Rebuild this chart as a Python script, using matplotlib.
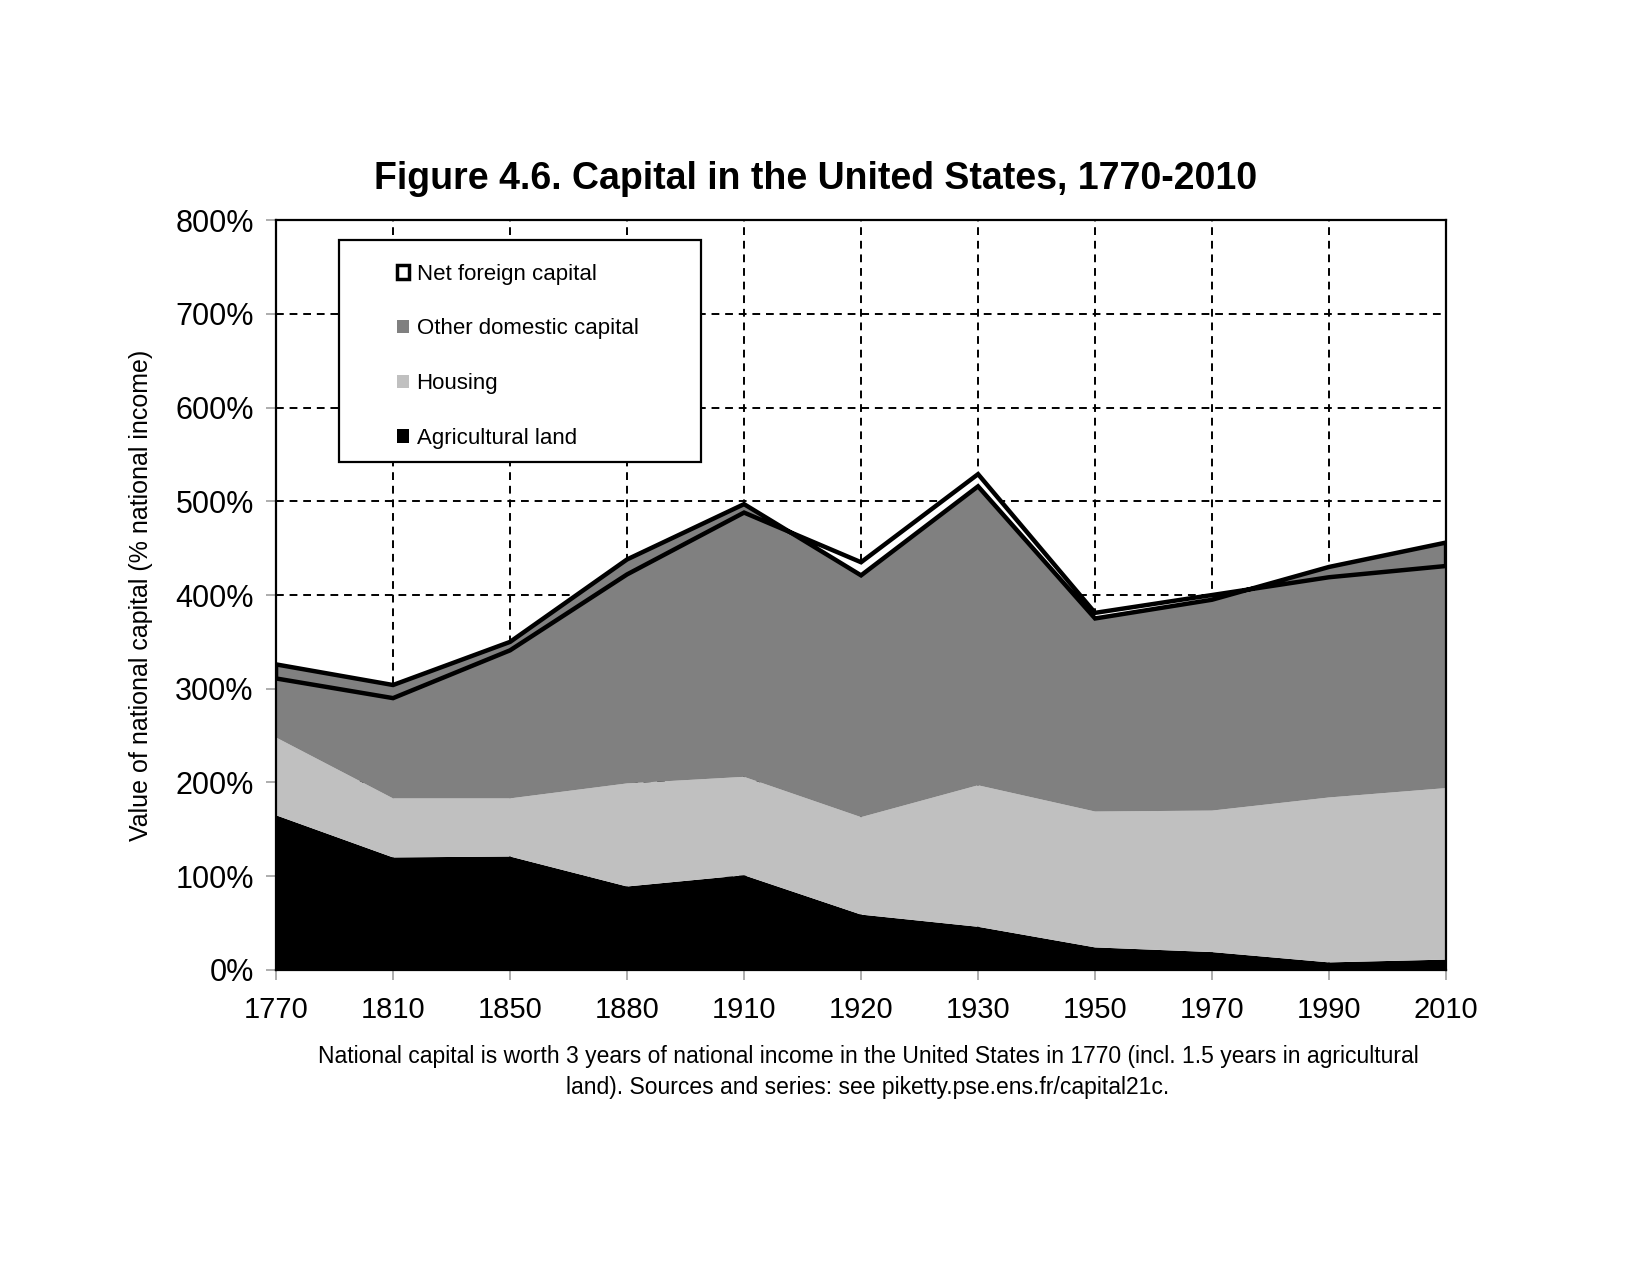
import numpy as np
import matplotlib
matplotlib.use('Agg')
import matplotlib.pyplot as plt
from matplotlib.patches import Patch, Rectangle
from matplotlib.ticker import FuncFormatter

plt.rcParams['font.family'] = ['Liberation Sans', 'DejaVu Sans']

# values, % of national income
years = ['1770', '1810', '1850', '1880', '1910', '1920', '1930', '1950', '1970', '1990', '2010']
agri_land = [165, 120, 121, 89, 101, 59, 46, 24, 19, 8, 11]
housing = [83, 63, 62, 110, 105, 104, 151, 145, 151, 176, 183]
other_domestic = [78, 121, 167, 239, 291, 258, 319, 206, 225, 246, 262]
net_foreign = [-15, -14, -9, -16, -9, 14, 13, 6, 5, -11, -25]

labels = ['Net foreign capital', 'Other domestic capital', 'Housing', 'Agricultural land']
caption = ('National capital is worth 3 years of national income in the United States in 1770 (incl. 1.5 years in agricultural\n'
           'land). Sources and series: see piketty.pse.ens.fr/capital21c.')

#-----------------------------------------------------------------------------
x = np.arange(len(years))
agri = np.array(agri_land, dtype=float)
hous = np.array(housing, dtype=float)
oth = np.array(other_domestic, dtype=float)
nfc = np.array(net_foreign, dtype=float)
domestic = agri + hous + oth
national = domestic + nfc

fig = plt.figure(figsize=(16.5, 12.75), dpi=100)
ax = fig.add_axes([0.1673, 0.2393, 0.7091, 0.588])

# white band for net foreign capital, grey areas drawn over it
ax.fill_between(x, domestic, national, facecolor='white', lw=0, zorder=1)
ax.stackplot(x, agri, hous, oth, colors=['#000000', '#c0c0c0', '#808080'], lw=0, zorder=2)
# outline of the net foreign capital band
ax.fill(np.concatenate([x, x[::-1]]), np.concatenate([domestic, national[::-1]]),
        facecolor='none', edgecolor='black', lw=3.2, joinstyle='miter', zorder=3)

ax.set_xlim(0, len(years) - 1)
ax.set_ylim(0, 800)
ax.set_xticks(x)
ax.set_xticklabels(years)
ax.set_yticks(np.arange(0, 801, 100))
ax.yaxis.set_major_formatter(FuncFormatter(lambda v, p: '%d%%' % v))
ax.tick_params(axis='both', color='#a0a0a0', length=7, width=1.2, pad=9)
ax.tick_params(axis='x', labelsize=21, pad=12)
ax.tick_params(axis='y', labelsize=22)

ax.set_axisbelow(True)
ax.grid(True, color='black', ls=(0, (4, 3)), lw=1.4)
for s in ax.spines.values():
  s.set_color('black')
  s.set_linewidth(1.6)
  s.set_zorder(4)

ax.set_ylabel('Value of national capital (% national income)', fontsize=18, labelpad=16)
fig.text(0.4945, 0.8595, 'Figure 4.6. Capital in the United States, 1770-2010',
         ha='center', va='center', fontsize=27, fontweight='bold')
fig.text(0.526, 0.159, caption, ha='center', va='center', fontsize=16.5, linespacing=1.46)

# legend: boxed, entries indented
ax.add_patch(Rectangle((0.054, 0.678), 0.309, 0.295, transform=ax.transAxes,
                       facecolor='white', edgecolor='black', lw=1.6, zorder=5))
handles = [Patch(facecolor='white', edgecolor='black', lw=2.5),
           Patch(facecolor='#808080', edgecolor='none'),
           Patch(facecolor='#c0c0c0', edgecolor='none'),
           Patch(facecolor='#000000', edgecolor='none')]
leg = ax.legend(handles, labels, loc='upper left', bbox_to_anchor=(0.103, 0.942),
                frameon=False, fontsize=16, borderpad=0, labelspacing=1.52,
                handlelength=0.55, handleheight=0.55, handletextpad=0.35,
                borderaxespad=0)
leg.set_zorder(6)

fig.savefig('out.png', dpi=100)
